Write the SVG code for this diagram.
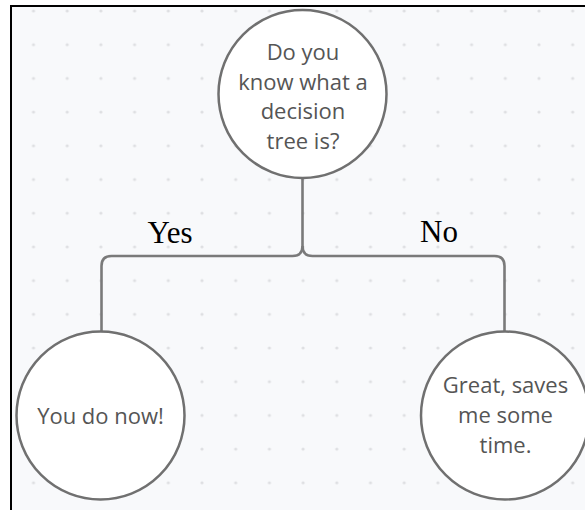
<svg xmlns="http://www.w3.org/2000/svg" width="585" height="510" viewBox="0 0 585 510">
  <defs>
    <pattern id="dotGrid" patternUnits="userSpaceOnUse" x="16.65" y="-5.85" width="33.7" height="33.7">
      <circle cx="16.85" cy="16.85" r="1.6" fill="#dedfe2"/>
    </pattern>
    <style>
      .node circle { fill: #ffffff; stroke: #707070; stroke-width: 2.5; }
      .node text { font-family: "Open Sans", "Noto Sans", sans-serif; font-size: 22px; fill: #555555; text-anchor: middle; }
      .link { fill: none; stroke: #7a7a7a; stroke-width: 2.6; }
      .label { font-family: "Liberation Serif", "Times New Roman", serif; font-size: 31px; fill: #000000; }
    </style>
  </defs>

  <!-- canvas: white surround, dotted board, dark frame -->
  <rect x="0" y="0" width="585" height="510" fill="#ffffff"/>
  <rect x="11" y="6" width="600" height="520" fill="#f8f9fb"/>
  <rect x="11" y="6" width="600" height="520" fill="url(#dotGrid)"/>
  <rect x="11" y="6" width="600" height="520" fill="none" stroke="#000000" stroke-width="2"/>

  <!-- connectors -->
  <g id="connectors">
    <path class="link" d="M302.5 178 V246 Q302.5 256 292.5 256 H111.5 Q101.5 256 101.5 266 V331"/>
    <path class="link" d="M302.5 246 Q302.5 256 312.5 256 H494.5 Q504.5 256 504.5 266 V331"/>
    <text class="label" x="147.5" y="243">Yes</text>
    <text class="label" x="420" y="242">No</text>
  </g>

  <!-- question -->
  <g id="node-question" class="node">
    <circle cx="302.5" cy="94" r="84"/>
    <text x="303" y="60">Do you</text>
    <text x="303" y="89.5">know what a</text>
    <text x="303" y="119">decision</text>
    <text x="303" y="148.5">tree is?</text>
  </g>

  <!-- yes answer -->
  <g id="node-yes" class="node">
    <circle cx="100.5" cy="415.5" r="84"/>
    <text x="100.5" y="424">You do now!</text>
  </g>

  <!-- no answer -->
  <g id="node-no" class="node">
    <circle cx="505" cy="415.5" r="84"/>
    <text x="505.5" y="393">Great, saves</text>
    <text x="505.5" y="423">me some</text>
    <text x="505.5" y="453">time.</text>
  </g>
</svg>
